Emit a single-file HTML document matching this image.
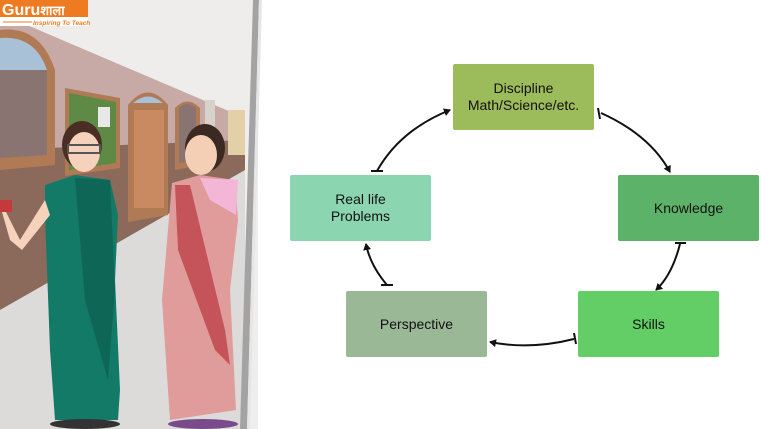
<!DOCTYPE html>
<html><head><meta charset="utf-8"><style>
html,body{margin:0;padding:0;width:770px;height:429px;overflow:hidden;background:#fff;font-family:"Liberation Sans",sans-serif}
.b{position:absolute;display:flex;align-items:center;justify-content:center;text-align:center;font-size:14px;color:#111;line-height:17px;border-radius:2px;width:141px;height:66px}
</style></head><body>
<svg width="770" height="429" style="position:absolute;left:0;top:0">
<rect x="0" y="0" width="258" height="429" fill="#f0eeec"/>
<polygon points="0,0 258,0 258,125 20,22 0,22" fill="#efedeb"/>
<polygon points="20,22 245,118 245,180 0,150 0,22" fill="#c7aaa6"/>
<polygon points="0,150 245,140 245,200 0,310" fill="#8c6a5b"/>
<polygon points="0,310 245,170 245,429 0,429" fill="#dcdbd9"/>
<path d="M0,30 Q40,25 55,70 L55,165 L0,170 Z" fill="#b07a55"/>
<path d="M0,38 Q35,35 47,70 L47,155 L0,158 Z" fill="#8a7472"/>
<path d="M0,38 Q35,35 47,70 L0,70 Z" fill="#a9c1d6"/>
<polygon points="65,88 120,98 120,168 65,176" fill="#b07a55"/>
<polygon points="69,93 116,102 116,163 69,170" fill="#5f8a45"/>
<rect x="98" y="107" width="12" height="20" fill="#e8e8e8"/>
<path d="M128,105 Q148,80 168,105 L168,215 L128,222 Z" fill="#b07a55"/>
<rect x="134" y="110" width="30" height="98" fill="#c98a62"/>
<path d="M133,103 Q148,90 163,103 Z" fill="#a9c1d6"/>
<path d="M175,108 Q187,95 200,108 L200,165 L175,170 Z" fill="#b07a55"/>
<path d="M179,108 Q187,100 196,108 L196,160 L179,163 Z" fill="#8a7472"/>
<rect x="205" y="100" width="10" height="40" fill="#d8d2cc"/>
<rect x="228" y="110" width="17" height="45" fill="#e3d0a8"/>
<ellipse cx="82" cy="145" rx="20" ry="24" fill="#4a2e24"/>
<ellipse cx="84" cy="152" rx="16" ry="20" fill="#f6d2bc"/>
<rect x="68" y="145" width="32" height="8" fill="none" stroke="#555" stroke-width="2"/>
<path d="M45,185 L75,175 L110,180 L118,215 L115,280 L120,390 L118,420 L55,420 L50,350 L45,215 Z" fill="#137a68"/>
<path d="M75,178 L110,180 L115,290 L108,380 L85,300 Z" fill="#0d6656"/>
<path d="M45,200 L20,240 L5,210 L0,205 L10,240 L22,250 L50,215 Z" fill="#f6d2bc"/>
<rect x="0" y="200" width="12" height="12" fill="#c43a3a"/>
<ellipse cx="85" cy="424" rx="35" ry="5" fill="#333"/>
<ellipse cx="205" cy="148" rx="20" ry="24" fill="#3c2a22"/>
<ellipse cx="201" cy="155" rx="16" ry="20" fill="#f4cfb6"/>
<path d="M172,183 L200,175 L235,180 L238,220 L230,290 L236,410 L170,420 L162,300 Z" fill="#e09b9b"/>
<path d="M200,178 L238,180 L236,215 L210,200 Z" fill="#f4b6d6"/>
<path d="M175,185 L190,185 L225,330 L230,365 L215,350 L178,250 Z" fill="#c4545a"/>
<ellipse cx="203" cy="424" rx="35" ry="5" fill="#7a4b8a"/>
<polygon points="253,0 259,0 247,429 240,429" fill="#a3a3a3"/>
<polygon points="259,0 262,0 250,429 247,429" fill="#e6e6e6"/>
<rect x="0" y="0" width="88" height="17" fill="#ee7a22"/>
<text x="2" y="15" font-family="Liberation Sans,sans-serif" font-weight="bold" font-size="16" fill="#fff">Guru<tspan font-family="Noto Sans CJK SC,sans-serif" font-size="13">शाला</tspan></text>
<rect x="0" y="17" width="88" height="9" fill="#fff"/>
<line x1="3" y1="22" x2="32" y2="22" stroke="#ee7a22" stroke-width="1"/>
<text x="33" y="25" font-size="6.5" font-style="italic" font-weight="bold" fill="#ee7a22">Inspiring To Teach</text>
<defs><marker id="a" markerWidth="8" markerHeight="8" refX="6" refY="4" orient="auto" markerUnits="userSpaceOnUse"><path d="M0,0 L7,4 L0,8 Z" fill="#111"/></marker></defs>
<g fill="none" stroke="#111" stroke-width="2" marker-end="url(#a)">
<path d="M377,171 Q400,130 450,110"/>
<path d="M601,113 Q650,135 670,172"/>
<path d="M680,244 Q672,275 656,290"/>
<path d="M574,339 Q530,350 490,342"/>
<path d="M387,285 Q370,265 366,244"/>
</g>
<g stroke="#111" stroke-width="2">
<line x1="371" y1="171" x2="383" y2="171"/>
<line x1="598" y1="108" x2="600" y2="119"/>
<line x1="675" y1="243" x2="686" y2="243"/>
<line x1="574" y1="333" x2="576" y2="344"/>
<line x1="381" y1="285" x2="393" y2="285"/>
</g>
</svg>
<div class="b" style="left:453px;top:64px;background:#9cbb5a">Discipline<br>Math/Science/etc.</div>
<div class="b" style="left:618px;top:175px;background:#5db26a">Knowledge</div>
<div class="b" style="left:578px;top:291px;background:#63cd66">Skills</div>
<div class="b" style="left:346px;top:291px;background:#9ab896">Perspective</div>
<div class="b" style="left:290px;top:175px;background:#8bd6b0">Real life<br>Problems</div>
</body></html>
